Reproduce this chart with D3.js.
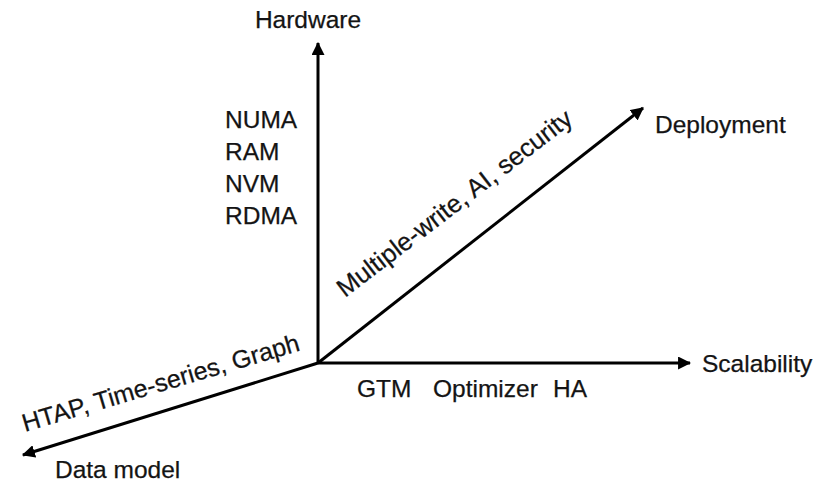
<!DOCTYPE html>
<html>
<head>
<meta charset="utf-8">
<script src="https://cdn.jsdelivr.net/npm/d3@7"></script>
<style>
  html, body { margin: 0; padding: 0; background: #fff; }
  svg text { font-family: "Liberation Sans", Arial, sans-serif; fill: #141414; stroke: #141414; stroke-width: 0.25px; }
</style>
</head>
<body>
<div id="chart"></div>
<script>
// axes of the diagram, tips in unit coordinates (origin = 0,0)
const axisNames = ['Hardware', 'Scalability', 'Deployment', 'Data model']
const axisTipU = [0, 1.1625, 1.0156, -0.922]
const axisTipV = [1.0, 0, 0.797, -0.2875]

// items written along each axis
const hardwareItems = ['NUMA', 'RAM', 'NVM', 'RDMA']
const scalabilityItems = ['GTM', 'Optimizer', 'HA']
const deploymentItems = ['Multiple-write', 'AI', 'security']
const dataModelItems = ['HTAP', 'Time-series', 'Graph']

const width = 822
const height = 490
const FONT = 24.5

const svg = d3.select('#chart')
  .append('svg')
  .attr('width', width)
  .attr('height', height)

const x = d3.scaleLinear().domain([0, 1]).range([318, 638])
const y = d3.scaleLinear().domain([0, 1]).range([363, 43])

svg.append('defs').append('marker')
  .attr('id', 'arrow')
  .attr('viewBox', '0 0 12 12')
  .attr('refX', 11)
  .attr('refY', 6)
  .attr('markerWidth', 13)
  .attr('markerHeight', 13)
  .attr('markerUnits', 'userSpaceOnUse')
  .attr('orient', 'auto')
  .append('path')
  .attr('d', 'M0,0 L12,6 L0,12 Z')
  .attr('fill', '#000')

const axes = axisNames.map((name, i) => ({ name, u: axisTipU[i], v: axisTipV[i] }))

// axis arrows
svg.selectAll('line.axis')
  .data(axes)
  .enter()
  .append('line')
  .attr('class', 'axis')
  .attr('x1', x(0))
  .attr('y1', y(0))
  .attr('x2', d => x(d.u))
  .attr('y2', d => y(d.v))
  .attr('stroke', '#000')
  .attr('stroke-width', 3)
  .attr('marker-end', 'url(#arrow)')

// axis names, offset from each tip
const nameOffset = {
  'Hardware': { dx: -10, dy: -15, anchor: 'middle' },
  'Scalability': { dx: 12, dy: 9, anchor: 'start' },
  'Deployment': { dx: 12, dy: 25, anchor: 'start' },
  'Data model': { dx: 32, dy: 23, anchor: 'start' }
}
svg.selectAll('text.axis-name')
  .data(axes)
  .enter()
  .append('text')
  .attr('class', 'axis-name')
  .attr('x', d => x(d.u) + nameOffset[d.name].dx)
  .attr('y', d => y(d.v) + nameOffset[d.name].dy)
  .attr('text-anchor', d => nameOffset[d.name].anchor)
  .style('font-size', FONT + 'px')
  .text(d => d.name)

// Hardware: stacked list left of the vertical axis
svg.selectAll('text.hw')
  .data(hardwareItems)
  .enter()
  .append('text')
  .attr('class', 'hw')
  .attr('x', 225)
  .attr('y', (d, i) => 128 + i * 32)
  .style('font-size', FONT + 'px')
  .text(d => d)

// Scalability: row under the horizontal axis
const rowX = [357, 433, 553]
svg.selectAll('text.sc')
  .data(scalabilityItems)
  .enter()
  .append('text')
  .attr('class', 'sc')
  .attr('x', (d, i) => rowX[i])
  .attr('y', y(0) + 34)
  .style('font-size', FONT + 'px')
  .text(d => d)

// Deployment: rotated along the diagonal
svg.append('text')
  .attr('transform', 'translate(345,298) rotate(-37.5)')
  .style('font-size', '25.5px')
  .text(deploymentItems.join(', '))

// Data model: rotated along the lower-left axis
svg.append('text')
  .attr('transform', 'translate(25,432) rotate(-16.5)')
  .style('font-size', '25px')
  .text(dataModelItems.join(', '))
</script>
</body>
</html>
